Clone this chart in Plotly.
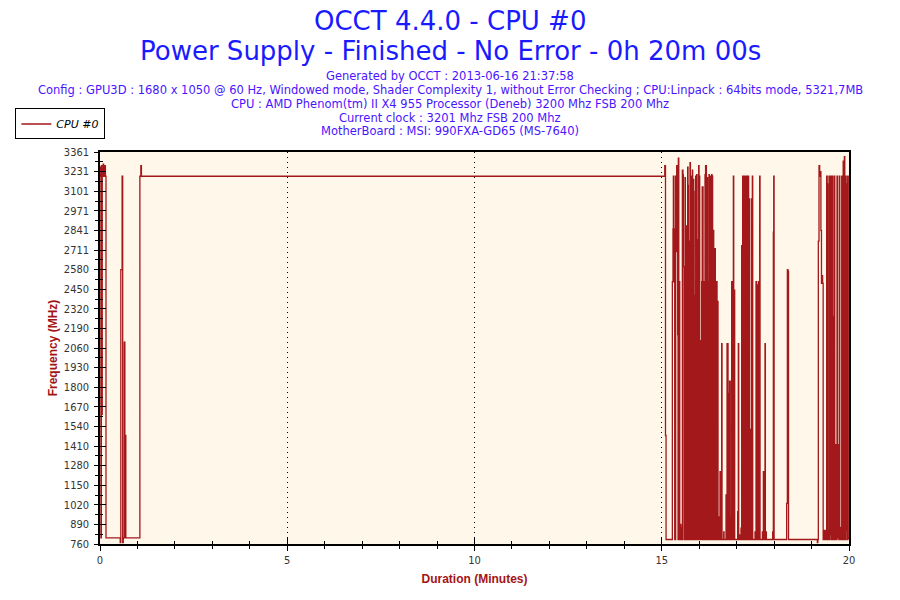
import plotly.graph_objects as go

# ---------------- data (minutes, MHz) ----------------
start_t = [0.000, 0.012, 0.024, 0.036, 0.048, 0.060, 0.072, 0.084, 0.096, 0.108,
           0.120, 0.132, 0.144, 0.160, 0.540, 0.556, 0.590, 0.606, 0.622, 0.648,
           0.664, 0.676, 0.690, 1.065, 1.090, 1.106]
start_mhz = [3260, 3200, 800, 3270, 1620, 3250, 3200, 3280, 3200, 3260,
             3210, 3270, 3200, 800, 770, 2580, 3200, 770, 800, 2100,
             800, 1480, 800, 3200, 3270, 3200]

plateau_end_t = [15.080, 15.100, 15.115]
plateau_end_mhz = [3270, 1480, 790]

burst1_t = [
    15.283, 15.300, 15.310, 15.326, 15.336, 15.346, 15.354, 15.364, 15.372, 15.388,
    15.399, 15.410, 15.425, 15.435, 15.443, 15.455, 15.462, 15.470, 15.480, 15.496,
    15.510, 15.532, 15.542, 15.550, 15.566, 15.577, 15.592, 15.603, 15.613, 15.621,
    15.631, 15.639, 15.649, 15.657, 15.667, 15.674, 15.684, 15.692, 15.702, 15.712,
    15.728, 15.738, 15.746, 15.755, 15.765, 15.775, 15.785, 15.795, 15.800, 15.810,
    15.817, 15.825, 15.830, 15.840, 15.845, 15.855, 15.860, 15.866, 15.870, 15.880,
    15.888, 15.898, 15.906, 15.914, 15.920, 15.927, 15.933, 15.943, 15.959, 15.969,
    15.986, 15.996, 16.004, 16.014, 16.022, 16.032, 16.048, 16.058, 16.066, 16.074,
    16.080, 16.088, 16.093, 16.103, 16.111, 16.121, 16.155, 16.163, 16.170, 16.176,
    16.182, 16.192, 16.200, 16.208, 16.217, 16.225, 16.230, 16.238, 16.244, 16.254,
    16.262, 16.270, 16.275, 16.283, 16.289, 16.299, 16.306, 16.314, 16.320, 16.328,
    16.333, 16.343, 16.351, 16.359, 16.365, 16.372, 16.378, 16.388, 16.395, 16.403,
    16.410, 16.416, 16.422, 16.432, 16.449, 16.459, 16.467, 16.477, 16.493, 16.503,
    16.511, 16.521, 16.529, 16.539, 16.556, 16.566, 16.582, 16.592, 16.600, 16.610,
    16.654, 16.664, 16.716, 16.726, 16.743, 16.752, 16.760, 16.770, 16.778, 16.788,
    16.796, 16.810, 16.830, 16.840, 16.850, 16.867, 16.877, 16.884, 16.894, 16.912,
    16.922, 16.938, 16.948, 17.027, 17.037, 17.045, 17.055, 17.072, 17.082, 17.116,
    17.126, 17.134, 17.142, 17.150, 17.156, 17.161, 17.171, 17.179, 17.186, 17.192,
    17.199, 17.205, 17.215, 17.223, 17.233, 17.241, 17.249, 17.255, 17.262, 17.268,
    17.275, 17.280, 17.287, 17.294, 17.302, 17.312, 17.320, 17.325, 17.332, 17.339,
    17.349, 17.357, 17.367, 17.375, 17.385, 17.401, 17.411, 17.419, 17.429, 17.490,
    17.500, 17.517, 17.527, 17.535, 17.545, 17.561, 17.569, 17.579, 17.589, 17.597,
    17.607, 17.615, 17.625, 17.686, 17.696, 17.713, 17.723, 17.739, 17.749, 17.757,
    17.767, 17.784, 17.794, 17.962, 17.972, 17.980, 17.990, 18.000, 18.336, 18.354,
    18.370, 18.385]
burst1_mhz = [
    2500, 2850, 3200, 2500, 2850, 790, 2500, 790, 3200, 2700,
    3270, 2980, 2150, 790, 3320, 2500, 790, 2500, 790, 890,
    790, 870, 790, 3240, 3210, 2600, 790, 2600, 790, 3190,
    2500, 2870, 790, 2870, 790, 820, 790, 3260, 3140, 790,
    830, 790, 2770, 3290, 2090, 790, 3150, 790, 3200, 800,
    3240, 790, 3130, 790, 3180, 790, 3100, 790, 2410, 790,
    1160, 790, 3200, 790, 3150, 790, 3210, 790, 2780, 790,
    3270, 790, 3200, 790, 2110, 790, 1910, 790, 2500, 790,
    3130, 790, 3130, 790, 2500, 790, 3210, 790, 3270, 3060,
    3270, 790, 3060, 790, 3190, 790, 2500, 790, 2500, 790,
    3210, 790, 2700, 790, 3200, 790, 2500, 790, 2750, 790,
    3210, 790, 3200, 790, 2600, 790, 2840, 790, 2680, 790,
    2720, 790, 2720, 790, 1530, 790, 2500, 790, 2370, 790,
    910, 790, 940, 790, 1240, 790, 875, 790, 2090, 790,
    840, 790, 1085, 790, 2090, 790, 2090, 790, 910, 790,
    1760, 1840, 790, 940, 790, 2500, 790, 1790, 790, 3200,
    790, 2445, 790, 975, 790, 2090, 790, 820, 790, 865,
    790, 2740, 790, 2500, 790, 3200, 790, 2500, 790, 2500,
    790, 3200, 790, 885, 790, 3200, 790, 2500, 790, 3200,
    790, 2500, 790, 3200, 790, 3200, 790, 2700, 790, 3050,
    790, 1520, 790, 1440, 790, 3050, 790, 3200, 790, 840,
    790, 2500, 790, 1540, 790, 2480, 790, 2500, 790, 1020,
    790, 3200, 790, 840, 790, 1240, 790, 1020, 790, 2090,
    790, 840, 790, 840, 790, 2830, 3200, 790, 1030, 2580,
    2570, 790]

burst2_t = [
    19.155, 19.168, 19.181, 19.199, 19.217, 19.235, 19.250, 19.265, 19.280, 19.295,
    19.310, 19.330, 19.345, 19.360, 19.375, 19.404, 19.418, 19.430, 19.440, 19.452,
    19.466, 19.480, 19.493, 19.505, 19.520, 19.532, 19.545, 19.555, 19.568, 19.582,
    19.595, 19.609, 19.620, 19.635, 19.653, 19.665, 19.680, 19.692, 19.705, 19.716,
    19.728, 19.742, 19.754, 19.778, 19.790, 19.805, 19.817, 19.832, 19.844, 19.856,
    19.876, 19.888, 19.900, 19.912, 19.924, 19.938, 19.950, 19.965, 19.980, 20.000]
burst2_mhz = [
    770, 790, 2770, 3270, 3200, 3230, 2840, 2490, 2540, 2490,
    790, 850, 790, 850, 790, 3200, 3150, 790, 850, 790,
    3200, 790, 3200, 820, 3200, 790, 850, 3200, 790, 2270,
    790, 3200, 850, 790, 1420, 790, 3200, 800, 850, 1420,
    790, 3200, 790, 870, 790, 3200, 790, 3200, 3300, 790,
    3330, 3200, 790, 3200, 850, 3150, 790, 3200, 800, 790]

y_tick_labels = ["760", "890", "1020", "1150", "1280", "1410", "1540", "1670", "1800",
                 "1930", "2060", "2190", "2320", "2450", "2580", "2711", "2841",
                 "2971", "3101", "3231", "3361"]
y_min, y_max = 760, 3361
x_major = [0, 5, 10, 15, 20]
x_minor = [1, 2, 3, 4, 6, 7, 8, 9, 11, 12, 13, 14, 16, 17, 18, 19]

title_lines = ["OCCT 4.4.0 - CPU #0",
               "Power Supply - Finished - No Error - 0h 20m 00s"]
info_lines = [
    "Generated by OCCT : 2013-06-16 21:37:58",
    "Config : GPU3D : 1680 x 1050 @ 60 Hz, Windowed mode, Shader Complexity 1, "
    "without Error Checking ; CPU:Linpack : 64bits mode, 5321,7MB",
    "CPU : AMD Phenom(tm) II X4 955 Processor (Deneb) 3200 Mhz FSB 200 Mhz",
    "Current clock : 3201 Mhz FSB 200 Mhz",
    "MotherBoard : MSI: 990FXA-GD65 (MS-7640)",
]

# ---------------- build ----------------
time_min = start_t + plateau_end_t + burst1_t + burst2_t
freq_mhz = start_mhz + plateau_end_mhz + burst1_mhz + burst2_mhz

step = (y_max - y_min) / (len(y_tick_labels) - 1)
y_major = [y_min + i * step for i in range(len(y_tick_labels))]
y_minor = [y_min + (i + 0.5) * step for i in range(len(y_tick_labels) - 1)]

LINE = "#a3191b"
AXIS_RED = "#a31414"

fig = go.Figure()
fig.add_trace(go.Scatter(
    x=time_min, y=freq_mhz, mode="lines", name="CPU #0",
    line=dict(color=LINE, width=1.3, shape="hv"),
))
# empty trace to activate overlay axes (inside tick marks)
fig.add_trace(go.Scatter(x=[], y=[], xaxis="x2", yaxis="y2", showlegend=False,
                         hoverinfo="skip"))

tickfont = dict(family="DejaVu Sans Condensed", size=11, color="#333333")
titlefont = dict(family="Liberation Sans", size=12, color=AXIS_RED, weight="bold")

fig.update_layout(
    width=900, height=600,
    margin=dict(l=100, r=51, t=152, b=56, pad=0, autoexpand=False),
    paper_bgcolor="white", plot_bgcolor="#fff7e9",
    showlegend=True,
    legend=dict(x=-0.113, y=1.111, xanchor="left", yanchor="top",
                bordercolor="black", borderwidth=1, bgcolor="white",
                font=dict(family="DejaVu Sans", size=11, style="italic", color="black"),
                itemwidth=30, tracegroupgap=0),
    xaxis=dict(range=[0, 20], tickmode="array", tickvals=x_major,
               ticks="outside", ticklen=5, tickwidth=1.3, tickcolor="black",
               showline=True, linecolor="black", linewidth=1.5, mirror=True,
               showgrid=True, gridcolor="black", griddash="1px,4px", gridwidth=1,
               zeroline=False, tickfont=tickfont, ticklabelstandoff=0,
               automargin=False,
               minor=dict(tickvals=x_minor, ticks="outside", ticklen=3,
                          tickcolor="black", tickwidth=1.2, showgrid=False),
               title=dict(text="Duration (Minutes)", font=titlefont, standoff=9)),
    yaxis=dict(range=[y_min, y_max], tickmode="array", tickvals=y_major,
               ticktext=y_tick_labels,
               ticks="outside", ticklen=4, tickwidth=1.3, tickcolor="black",
               showline=True, linecolor="black", linewidth=1.5, mirror=True,
               showgrid=False, zeroline=False, tickfont=tickfont,
               ticklabelstandoff=3, automargin=False,
               minor=dict(tickvals=y_minor, ticks="outside", ticklen=3,
                          tickcolor="black", tickwidth=1.2, showgrid=False),
               title=dict(text="Frequency (MHz)", font=titlefont, standoff=4)),
    xaxis2=dict(overlaying="x", anchor="y", range=[0, 20], tickmode="array",
                tickvals=x_major, ticks="inside", ticklen=6, tickwidth=1.3,
                tickcolor="black", showticklabels=False, showgrid=False,
                zeroline=False, showline=False, automargin=False,
                minor=dict(tickvals=x_minor, ticks="inside", ticklen=3,
                           tickcolor="black", tickwidth=1.2)),
    yaxis2=dict(overlaying="y", anchor="x", range=[y_min, y_max], tickmode="array",
                tickvals=y_major, ticks="inside", ticklen=6, tickwidth=1.3,
                tickcolor="black", showticklabels=False, showgrid=False,
                zeroline=False, showline=False, automargin=False,
                minor=dict(tickvals=y_minor, ticks="inside", ticklen=3,
                           tickcolor="black", tickwidth=1.2)),
)

cx = (450 - 100) / 749
title_y = [1.334, 1.258]
for txt, yy in zip(title_lines, title_y):
    fig.add_annotation(text=txt, x=cx, y=yy, xref="paper", yref="paper",
                       xanchor="center", yanchor="middle", showarrow=False,
                       font=dict(family="DejaVu Sans", size=26, color="#1a1aff"))
info_y = [1.1939, 1.1582, 1.1224, 1.0867, 1.0536]
for txt, yy in zip(info_lines, info_y):
    fig.add_annotation(text=txt, x=cx, y=yy, xref="paper", yref="paper",
                       xanchor="center", yanchor="middle", showarrow=False,
                       font=dict(family="DejaVu Sans", size=11.5, color="#4a14ff"))

fig.write_html("out.html", config={"displayModeBar": False},
               post_script="document.body.style.margin='0px';")
